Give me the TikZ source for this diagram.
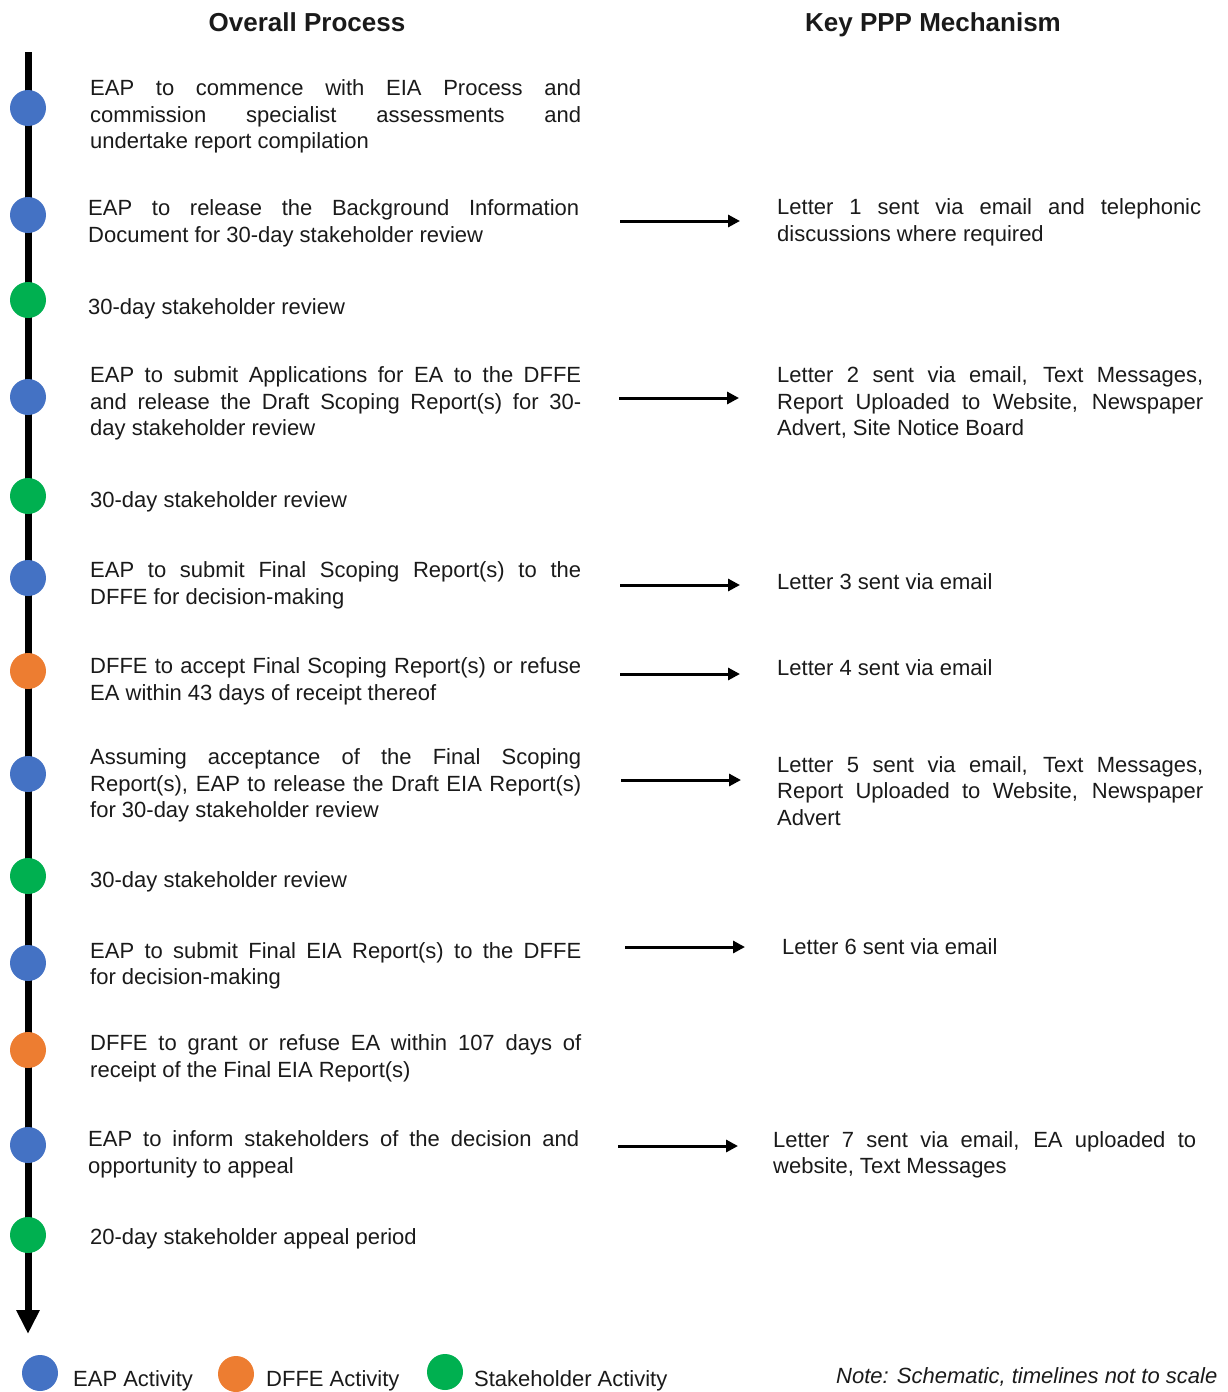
\documentclass[tikz,border=0pt]{standalone}
\usepackage{fontspec}
\setmainfont{Liberation Sans}
\usetikzlibrary{arrows.meta}
\definecolor{eapblue}{HTML}{4472C4}
\definecolor{dffeorange}{HTML}{ED7D31}
\definecolor{stkgreen}{HTML}{00B050}
\definecolor{txtcol}{HTML}{1A1A1A}
\begin{document}
\tolerance=10000
\hbadness=10000
\begin{tikzpicture}[x=1pt,y=-1pt,
  txt/.style={font=\fontsize{22}{26.5}\selectfont, inner sep=0pt, anchor=west, align=justify, text=txtcol, yshift=-2.5pt},
  lt/.style={txt, text width=491pt},
  rt/.style={txt, text width=424pt},
  dot/.style={circle, minimum size=36pt, inner sep=0pt, fill=#1},
  arr/.style={line width=3pt, -{Triangle[length=12pt,width=12pt]}},
  ttl/.style={font=\fontsize{26}{30}\selectfont\bfseries, inner sep=0pt, anchor=base, text=txtcol},
  leg/.style={font=\fontsize{22}{26.5}\selectfont, inner sep=0pt, anchor=base west, text=txtcol}
]
\useasboundingbox (0,0) rectangle (1228,1392);

% titles
\node[ttl] (h1) at (307,31) {Overall Process};
\node[ttl] (h2) at (933,31) {Key PPP Mechanism};

% timeline
\coordinate (tlTop) at (28,52);
\coordinate (tlBot) at (28,1334);
\draw[line width=7pt, -{Triangle[length=24pt,width=22pt]}] (tlTop) -- (tlBot);

% timeline dots
\node[dot=eapblue]    (c1)  at (28,108) {};
\node[dot=eapblue]    (c2)  at (28,215) {};
\node[dot=stkgreen]   (c3)  at (28,300) {};
\node[dot=eapblue]    (c4)  at (28,397) {};
\node[dot=stkgreen]   (c5)  at (28,496) {};
\node[dot=eapblue]    (c6)  at (28,578) {};
\node[dot=dffeorange] (c7)  at (28,671) {};
\node[dot=eapblue]    (c8)  at (28,774) {};
\node[dot=stkgreen]   (c9)  at (28,876) {};
\node[dot=eapblue]    (c10) at (28,963) {};
\node[dot=dffeorange] (c11) at (28,1050) {};
\node[dot=eapblue]    (c12) at (28,1145) {};
\node[dot=stkgreen]   (c13) at (28,1235) {};

% left texts
\node[lt] (t1) at (90,114) {EAP to commence with EIA Process and\linebreak commission specialist assessments and\linebreak undertake report compilation};
\node[lt] (t2) at (88,221) {EAP to release the Background Information\linebreak Document for 30-day stakeholder review};
\node[lt] (t3) at (88,306) {30-day stakeholder review};
\node[lt] (t4) at (90,401) {EAP to submit Applications for EA to the DFFE\linebreak and release the Draft Scoping Report(s) for 30-\linebreak day stakeholder review};
\node[lt] (t5) at (90,499) {30-day stakeholder review};
\node[lt] (t6) at (90,583) {EAP to submit Final Scoping Report(s) to the\linebreak DFFE for decision-making};
\node[lt] (t7) at (90,679) {DFFE to accept Final Scoping Report(s) or refuse\linebreak EA within 43 days of receipt thereof};
\node[lt] (t8) at (90,783) {Assuming acceptance of the Final Scoping\linebreak Report(s), EAP to release the Draft EIA Report(s)\linebreak for 30-day stakeholder review};
\node[lt] (t9) at (90,879) {30-day stakeholder review};
\node[lt] (t10) at (90,963.5) {EAP to submit Final EIA Report(s) to the DFFE\linebreak for decision-making};
\node[lt] (t11) at (90,1056) {DFFE to grant or refuse EA within 107 days of\linebreak receipt of the Final EIA Report(s)};
\node[lt] (t12) at (88,1152) {EAP to inform stakeholders of the decision and\linebreak opportunity to appeal};
\node[lt] (t13) at (90,1236) {20-day stakeholder appeal period};

% right texts
\node[rt] (r1) at (777,220) {Letter 1 sent via email and telephonic\linebreak discussions where required};
\node[rt, text width=426pt] (r2) at (777,400.3) {Letter 2 sent via email, Text Messages,\linebreak Report Uploaded to Website, Newspaper\linebreak Advert, Site Notice Board};
\node[rt] (r3) at (777,579) {Letter 3 sent via email};
\node[rt] (r4) at (777,665) {Letter 4 sent via email};
\node[rt, text width=426pt] (r5) at (777,788.3) {Letter 5 sent via email, Text Messages,\linebreak Report Uploaded to Website, Newspaper\linebreak Advert};
\node[rt] (r6) at (782,944) {Letter 6 sent via email};
\node[rt, text width=423pt] (r7) at (773,1152.5) {Letter 7 sent via email, EA uploaded to\linebreak website, Text Messages};

% arrows
\coordinate (a1) at (620,221);  \coordinate (b1) at (740,221);
\coordinate (a2) at (619,398);  \coordinate (b2) at (739,398);
\coordinate (a3) at (620,585);  \coordinate (b3) at (740,585);
\coordinate (a4) at (620,674);  \coordinate (b4) at (740,674);
\coordinate (a5) at (621,780);  \coordinate (b5) at (741,780);
\coordinate (a6) at (625,947);  \coordinate (b6) at (745,947);
\coordinate (a7) at (618,1146); \coordinate (b7) at (738,1146);
\draw[arr] (a1) -- (b1);
\draw[arr] (a2) -- (b2);
\draw[arr] (a3) -- (b3);
\draw[arr] (a4) -- (b4);
\draw[arr] (a5) -- (b5);
\draw[arr] (a6) -- (b6);
\draw[arr] (a7) -- (b7);

% legend
\node[dot=eapblue]    (l1) at (40,1373) {};
\node[leg] (lt1) at (73,1386) {EAP Activity};
\node[dot=dffeorange] (l2) at (236,1374) {};
\node[leg] (lt2) at (266,1386) {DFFE Activity};
\node[dot=stkgreen]   (l3) at (445,1372) {};
\node[leg] (lt3) at (474,1386) {Stakeholder Activity};
\node[leg, font=\fontsize{22}{26.5}\selectfont\itshape] (note) at (836,1383) {Note: Schematic, timelines not to scale};
\end{tikzpicture}
\end{document}
